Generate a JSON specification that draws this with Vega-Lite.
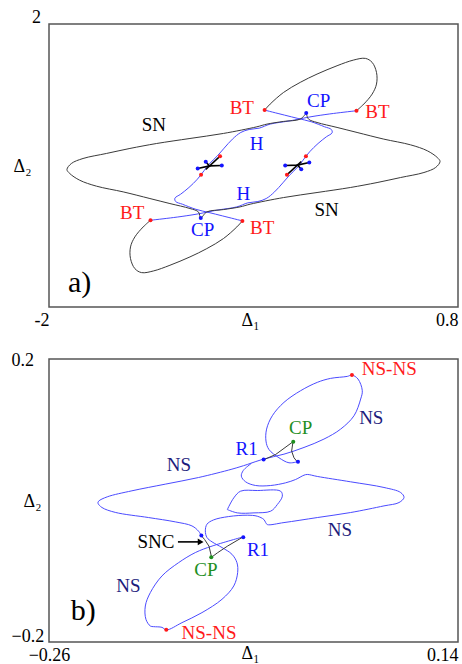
{
"$schema": "https://vega.github.io/schema/vega-lite/v6.json",
"padding": {"left": 10, "top": 7, "right": 2, "bottom": 2},
"spacing": 52,
"bounds": "flush",
"datasets": {
"a_curves": [
{"s":"B","i":1,"x":0.105,"y":0.774,"k":"hc"},{"s":"B","i":2,"x":-0.051,"y":0.736,"k":"hc"},{"s":"B","i":3,"x":-0.165,"y":0.703,"k":"hc"},{"s":"B","i":4,"x":-0.234,"y":0.679,"k":"hc"},{"s":"B","i":5,"x":-0.348,"y":0.632,"k":"hc"},{"s":"B","i":6,"x":-0.486,"y":0.585,"k":"hc"},{"s":"B","i":7,"x":-0.561,"y":0.528,"k":"hc"},{"s":"B","i":8,"x":-0.630,"y":0.509,"k":"hc"},{"s":"B","i":9,"x":-0.687,"y":0.467,"k":"hc"},{"s":"B","i":10,"x":-0.744,"y":0.373,"k":"hc"},{"s":"B","i":11,"x":-0.801,"y":0.245,"k":"hc"},{"s":"B","i":12,"x":-0.847,"y":0.137,"k":"hc"},{"s":"B","i":13,"x":-0.904,"y":0.019,"k":"hc"},{"s":"B","i":14,"x":-0.939,"y":-0.075,"k":"hc"},{"s":"B","i":15,"x":-0.984,"y":-0.193,"k":"hc"},{"s":"B","i":16,"x":-1.042,"y":-0.311,"k":"hc"},{"s":"B","i":17,"x":-1.099,"y":-0.406,"k":"hc"},{"s":"B","i":18,"x":-1.138,"y":-0.462,"k":"hc"},{"s":"B","i":19,"x":-1.133,"y":-0.509,"k":"hc"},{"s":"B","i":20,"x":-1.087,"y":-0.547,"k":"hc"},{"s":"B","i":21,"x":-0.996,"y":-0.618,"k":"hc"},{"s":"B","i":22,"x":-0.904,"y":-0.665,"k":"hc"},{"s":"B","i":23,"x":-0.813,"y":-0.712,"k":"hc"},{"s":"B","i":24,"x":-0.676,"y":-0.783,"k":"hc"},
{"s":"A","i":1,"x":-1.305,"y":-0.774,"k":"hc"},{"s":"A","i":2,"x":-1.149,"y":-0.736,"k":"hc"},{"s":"A","i":3,"x":-1.035,"y":-0.703,"k":"hc"},{"s":"A","i":4,"x":-0.966,"y":-0.679,"k":"hc"},{"s":"A","i":5,"x":-0.852,"y":-0.632,"k":"hc"},{"s":"A","i":6,"x":-0.714,"y":-0.585,"k":"hc"},{"s":"A","i":7,"x":-0.639,"y":-0.528,"k":"hc"},{"s":"A","i":8,"x":-0.570,"y":-0.509,"k":"hc"},{"s":"A","i":9,"x":-0.513,"y":-0.467,"k":"hc"},{"s":"A","i":10,"x":-0.456,"y":-0.373,"k":"hc"},{"s":"A","i":11,"x":-0.399,"y":-0.245,"k":"hc"},{"s":"A","i":12,"x":-0.353,"y":-0.137,"k":"hc"},{"s":"A","i":13,"x":-0.296,"y":-0.019,"k":"hc"},{"s":"A","i":14,"x":-0.261,"y":0.075,"k":"hc"},{"s":"A","i":15,"x":-0.216,"y":0.193,"k":"hc"},{"s":"A","i":16,"x":-0.158,"y":0.311,"k":"hc"},{"s":"A","i":17,"x":-0.101,"y":0.406,"k":"hc"},{"s":"A","i":18,"x":-0.062,"y":0.462,"k":"hc"},{"s":"A","i":19,"x":-0.067,"y":0.509,"k":"hc"},{"s":"A","i":20,"x":-0.113,"y":0.547,"k":"hc"},{"s":"A","i":21,"x":-0.204,"y":0.618,"k":"hc"},{"s":"A","i":22,"x":-0.296,"y":0.665,"k":"hc"},{"s":"A","i":23,"x":-0.387,"y":0.712,"k":"hc"},{"s":"A","i":24,"x":-0.524,"y":0.783,"k":"hc"},
{"s":"U","i":1,"x":-0.524,"y":0.783,"k":"snc"},{"s":"U","i":2,"x":-0.486,"y":0.868,"k":"snc"},{"s":"U","i":3,"x":-0.394,"y":1.033,"k":"snc"},{"s":"U","i":4,"x":-0.280,"y":1.175,"k":"snc"},{"s":"U","i":5,"x":-0.165,"y":1.292,"k":"snc"},{"s":"U","i":6,"x":-0.028,"y":1.410,"k":"snc"},{"s":"U","i":7,"x":0.086,"y":1.491,"k":"snc"},{"s":"U","i":8,"x":0.166,"y":1.514,"k":"snc"},{"s":"U","i":9,"x":0.212,"y":1.458,"k":"snc"},{"s":"U","i":10,"x":0.242,"y":1.316,"k":"snc"},{"s":"U","i":11,"x":0.242,"y":1.151,"k":"snc"},{"s":"U","i":12,"x":0.212,"y":1.009,"k":"snc"},{"s":"U","i":13,"x":0.155,"y":0.868,"k":"snc"},{"s":"U","i":14,"x":0.105,"y":0.774,"k":"snc"},
{"s":"L","i":1,"x":-0.676,"y":-0.783,"k":"snc"},{"s":"L","i":2,"x":-0.714,"y":-0.868,"k":"snc"},{"s":"L","i":3,"x":-0.806,"y":-1.033,"k":"snc"},{"s":"L","i":4,"x":-0.920,"y":-1.175,"k":"snc"},{"s":"L","i":5,"x":-1.035,"y":-1.292,"k":"snc"},{"s":"L","i":6,"x":-1.172,"y":-1.410,"k":"snc"},{"s":"L","i":7,"x":-1.286,"y":-1.491,"k":"snc"},{"s":"L","i":8,"x":-1.366,"y":-1.514,"k":"snc"},{"s":"L","i":9,"x":-1.412,"y":-1.458,"k":"snc"},{"s":"L","i":10,"x":-1.442,"y":-1.316,"k":"snc"},{"s":"L","i":11,"x":-1.442,"y":-1.151,"k":"snc"},{"s":"L","i":12,"x":-1.412,"y":-1.009,"k":"snc"},{"s":"L","i":13,"x":-1.355,"y":-0.868,"k":"snc"},{"s":"L","i":14,"x":-1.305,"y":-0.774,"k":"snc"},
{"s":"S","i":1,"x":-0.239,"y":0.741,"k":"snc"},{"s":"S","i":2,"x":-0.223,"y":0.656,"k":"snc"},{"s":"S","i":3,"x":-0.165,"y":0.608,"k":"snc"},{"s":"S","i":4,"x":-0.028,"y":0.538,"k":"snc"},{"s":"S","i":5,"x":0.109,"y":0.467,"k":"snc"},{"s":"S","i":6,"x":0.292,"y":0.373,"k":"snc"},{"s":"S","i":7,"x":0.475,"y":0.292,"k":"snc"},{"s":"S","i":8,"x":0.590,"y":0.208,"k":"snc"},{"s":"S","i":9,"x":0.658,"y":0.113,"k":"snc"},{"s":"S","i":10,"x":0.677,"y":0.057,"k":"snc"},{"s":"S","i":11,"x":0.647,"y":-0.028,"k":"snc"},{"s":"S","i":12,"x":0.567,"y":-0.099,"k":"snc"},{"s":"S","i":13,"x":0.407,"y":-0.170,"k":"snc"},{"s":"S","i":14,"x":0.246,"y":-0.241,"k":"snc"},{"s":"S","i":15,"x":0.063,"y":-0.311,"k":"snc"},{"s":"S","i":16,"x":-0.165,"y":-0.382,"k":"snc"},{"s":"S","i":17,"x":-0.394,"y":-0.453,"k":"snc"},{"s":"S","i":18,"x":-0.623,"y":-0.547,"k":"snc"},{"s":"S","i":19,"x":-0.692,"y":-0.585,"k":"snc"},{"s":"S","i":20,"x":-0.806,"y":-0.623,"k":"snc"},{"s":"S","i":21,"x":-0.920,"y":-0.656,"k":"snc"},{"s":"S","i":22,"x":-0.961,"y":-0.741,"k":"snc"},{"s":"S","i":23,"x":-0.977,"y":-0.656,"k":"snc"},{"s":"S","i":24,"x":-1.035,"y":-0.608,"k":"snc"},{"s":"S","i":25,"x":-1.172,"y":-0.538,"k":"snc"},{"s":"S","i":26,"x":-1.309,"y":-0.467,"k":"snc"},{"s":"S","i":27,"x":-1.492,"y":-0.373,"k":"snc"},{"s":"S","i":28,"x":-1.675,"y":-0.292,"k":"snc"},{"s":"S","i":29,"x":-1.790,"y":-0.208,"k":"snc"},{"s":"S","i":30,"x":-1.858,"y":-0.113,"k":"snc"},{"s":"S","i":31,"x":-1.877,"y":-0.057,"k":"snc"},{"s":"S","i":32,"x":-1.847,"y":0.028,"k":"snc"},{"s":"S","i":33,"x":-1.767,"y":0.099,"k":"snc"},{"s":"S","i":34,"x":-1.607,"y":0.170,"k":"snc"},{"s":"S","i":35,"x":-1.446,"y":0.241,"k":"snc"},{"s":"S","i":36,"x":-1.263,"y":0.311,"k":"snc"},{"s":"S","i":37,"x":-1.035,"y":0.382,"k":"snc"},{"s":"S","i":38,"x":-0.806,"y":0.453,"k":"snc"},{"s":"S","i":39,"x":-0.577,"y":0.547,"k":"snc"},{"s":"S","i":40,"x":-0.508,"y":0.585,"k":"snc"},{"s":"S","i":41,"x":-0.394,"y":0.623,"k":"snc"},{"s":"S","i":42,"x":-0.280,"y":0.656,"k":"snc"},{"s":"S","i":43,"x":-0.239,"y":0.741,"k":"snc"}
],
"a_segs": [
{"s":"s1","i":1,"x":-0.982,"y":-0.042,"k":"black"},{"s":"s1","i":2,"x":-0.900,"y":-0.005,"k":"black"},{"s":"s1","i":3,"x":-0.817,"y":0.0,"k":"black"},
{"s":"s2","i":1,"x":-0.927,"y":0.052,"k":"black"},{"s":"s2","i":2,"x":-0.897,"y":-0.019,"k":"black"},
{"s":"s3","i":1,"x":-0.927,"y":-0.057,"k":"black"},{"s":"s3","i":2,"x":-0.829,"y":0.132,"k":"black"},
{"s":"t1","i":1,"x":-0.218,"y":0.042,"k":"black"},{"s":"t1","i":2,"x":-0.300,"y":0.005,"k":"black"},{"s":"t1","i":3,"x":-0.383,"y":0.0,"k":"black"},
{"s":"t2","i":1,"x":-0.273,"y":-0.052,"k":"black"},{"s":"t2","i":2,"x":-0.303,"y":0.019,"k":"black"},
{"s":"t3","i":1,"x":-0.273,"y":0.057,"k":"black"},{"s":"t3","i":2,"x":-0.371,"y":-0.132,"k":"black"}
],
"a_pts": [
{"x":-0.524,"y":0.783,"k":"red"},{"x":0.105,"y":0.774,"k":"red"},{"x":-1.305,"y":-0.774,"k":"red"},{"x":-0.676,"y":-0.783,"k":"red"},
{"x":-0.829,"y":0.132,"k":"red"},{"x":-0.959,"y":-0.132,"k":"red"},{"x":-0.371,"y":-0.132,"k":"red"},{"x":-0.241,"y":0.132,"k":"red"},
{"x":-0.239,"y":0.741,"k":"blue"},{"x":-0.961,"y":-0.741,"k":"blue"},
{"x":-0.982,"y":-0.042,"k":"blue"},{"x":-0.927,"y":0.052,"k":"blue"},{"x":-0.817,"y":0.0,"k":"blue"},
{"x":-0.218,"y":0.042,"k":"blue"},{"x":-0.273,"y":-0.052,"k":"blue"},{"x":-0.383,"y":0.0,"k":"blue"}
],
"a_txt": [
{"x":-0.680,"y":0.807,"t":"BT","k":"red"},{"x":0.249,"y":0.750,"t":"BT","k":"red"},{"x":-0.154,"y":0.906,"t":"CP","k":"blue"},{"x":-1.282,"y":0.575,"t":"SN","k":"black"},{"x":-0.579,"y":0.307,"t":"H","k":"blue"},{"x":-0.669,"y":-0.401,"t":"H","k":"blue"},{"x":-1.430,"y":-0.670,"t":"BT","k":"red"},{"x":-0.948,"y":-0.906,"t":"CP","k":"blue"},{"x":-0.541,"y":-0.887,"t":"BT","k":"red"},{"x":-0.099,"y":-0.627,"t":"SN","k":"black"}
],
"a_tag": [{"x":-1.790,"y":-1.660,"t":"a)","k":"black"}],
"b_curves": [
{"s":"S1","i":1,"x":-0.0172,"y":0.0547,"k":"hc"},{"s":"S1","i":2,"x":-0.0253,"y":0.0533,"k":"hc"},{"s":"S1","i":3,"x":-0.0351,"y":0.0604,"k":"hc"},{"s":"S1","i":4,"x":-0.0449,"y":0.0721,"k":"hc"},{"s":"S1","i":5,"x":-0.0478,"y":0.0840,"k":"hc"},{"s":"S1","i":6,"x":-0.0472,"y":0.1009,"k":"hc"},{"s":"S1","i":7,"x":-0.0416,"y":0.1198,"k":"hc"},{"s":"S1","i":8,"x":-0.0302,"y":0.1387,"k":"hc"},{"s":"S1","i":9,"x":-0.0139,"y":0.1552,"k":"hc"},{"s":"S1","i":10,"x":0.0024,"y":0.1670,"k":"hc"},{"s":"S1","i":11,"x":0.0154,"y":0.1726,"k":"hc"},{"s":"S1","i":12,"x":0.0317,"y":0.1754,"k":"hc"},{"s":"S1","i":13,"x":0.0363,"y":0.1773,"k":"hc"},{"s":"S1","i":14,"x":0.0422,"y":0.1717,"k":"hc"},{"s":"S1","i":15,"x":0.0464,"y":0.1552,"k":"hc"},{"s":"S1","i":16,"x":0.0448,"y":0.1434,"k":"hc"},{"s":"S1","i":17,"x":0.0383,"y":0.1198,"k":"hc"},{"s":"S1","i":18,"x":0.0252,"y":0.1009,"k":"hc"},{"s":"S1","i":19,"x":0.0089,"y":0.0868,"k":"hc"},{"s":"S1","i":20,"x":-0.0106,"y":0.0750,"k":"hc"},{"s":"S1","i":21,"x":-0.0302,"y":0.0655,"k":"hc"},{"s":"S1","i":22,"x":-0.0504,"y":0.0585,"k":"hc"},{"s":"S1","i":23,"x":-0.0661,"y":0.0509,"k":"hc"},{"s":"S1","i":24,"x":-0.0811,"y":0.0443,"k":"hc"},{"s":"S1","i":25,"x":-0.1137,"y":0.0325,"k":"hc"},{"s":"S1","i":26,"x":-0.1463,"y":0.0231,"k":"hc"},{"s":"S1","i":27,"x":-0.1789,"y":0.0137,"k":"hc"},{"s":"S1","i":28,"x":-0.2030,"y":0.0052,"k":"hc"},{"s":"S1","i":29,"x":-0.2115,"y":-0.0010,"k":"hc"},{"s":"S1","i":30,"x":-0.2121,"y":-0.0038,"k":"hc"},{"s":"S1","i":31,"x":-0.2082,"y":-0.0099,"k":"hc"},{"s":"S1","i":32,"x":-0.1952,"y":-0.0168,"k":"hc"},{"s":"S1","i":33,"x":-0.1626,"y":-0.0241,"k":"hc"},{"s":"S1","i":34,"x":-0.1365,"y":-0.0302,"k":"hc"},{"s":"S1","i":35,"x":-0.1202,"y":-0.0359,"k":"hc"},{"s":"S1","i":36,"x":-0.1137,"y":-0.0434,"k":"hc"},{"s":"S1","i":37,"x":-0.1110,"y":-0.0498,"k":"hc"},
{"s":"S2","i":1,"x":-0.0701,"y":-0.0514,"k":"hc"},{"s":"S2","i":2,"x":-0.1005,"y":-0.0644,"k":"hc"},{"s":"S2","i":3,"x":-0.1169,"y":-0.0736,"k":"hc"},{"s":"S2","i":4,"x":-0.1332,"y":-0.0878,"k":"hc"},{"s":"S2","i":5,"x":-0.1495,"y":-0.1066,"k":"hc"},{"s":"S2","i":6,"x":-0.1609,"y":-0.1302,"k":"hc"},{"s":"S2","i":7,"x":-0.1658,"y":-0.1491,"k":"hc"},{"s":"S2","i":8,"x":-0.1652,"y":-0.1679,"k":"hc"},{"s":"S2","i":9,"x":-0.1609,"y":-0.1774,"k":"hc"},{"s":"S2","i":10,"x":-0.1577,"y":-0.1783,"k":"hc"},{"s":"S2","i":11,"x":-0.1495,"y":-0.1793,"k":"hc"},{"s":"S2","i":12,"x":-0.1453,"y":-0.1830,"k":"hc"},{"s":"S2","i":13,"x":-0.1300,"y":-0.1727,"k":"hc"},{"s":"S2","i":14,"x":-0.1104,"y":-0.1585,"k":"hc"},{"s":"S2","i":15,"x":-0.0908,"y":-0.1396,"k":"hc"},{"s":"S2","i":16,"x":-0.0793,"y":-0.1208,"k":"hc"},{"s":"S2","i":17,"x":-0.0755,"y":-0.1019,"k":"hc"},{"s":"S2","i":18,"x":-0.0762,"y":-0.0878,"k":"hc"},{"s":"S2","i":19,"x":-0.0811,"y":-0.0760,"k":"hc"},{"s":"S2","i":20,"x":-0.0908,"y":-0.0665,"k":"hc"},{"s":"S2","i":21,"x":-0.1005,"y":-0.0585,"k":"hc"},{"s":"S2","i":22,"x":-0.1055,"y":-0.0524,"k":"hc"},{"s":"S2","i":23,"x":-0.1071,"y":-0.0429,"k":"hc"},{"s":"S2","i":24,"x":-0.1055,"y":-0.0335,"k":"hc"},{"s":"S2","i":25,"x":-0.0990,"y":-0.0274,"k":"hc"},{"s":"S2","i":26,"x":-0.0843,"y":-0.0227,"k":"hc"},{"s":"S2","i":27,"x":-0.0661,"y":-0.0208,"k":"hc"},{"s":"S2","i":28,"x":-0.0563,"y":-0.0222,"k":"hc"},{"s":"S2","i":29,"x":-0.0498,"y":-0.0269,"k":"hc"},{"s":"S2","i":30,"x":-0.0481,"y":-0.0312,"k":"hc"},{"s":"S2","i":31,"x":-0.0465,"y":-0.0340,"k":"hc"},{"s":"S2","i":32,"x":-0.0302,"y":-0.0312,"k":"hc"},{"s":"S2","i":33,"x":0.0024,"y":-0.0241,"k":"hc"},{"s":"S2","i":34,"x":0.0350,"y":-0.0170,"k":"hc"},{"s":"S2","i":35,"x":0.0676,"y":-0.0076,"k":"hc"},{"s":"S2","i":36,"x":0.0823,"y":-0.0029,"k":"hc"},{"s":"S2","i":37,"x":0.0872,"y":0.0043,"k":"hc"},{"s":"S2","i":38,"x":0.0839,"y":0.0113,"k":"hc"},{"s":"S2","i":39,"x":0.0676,"y":0.0184,"k":"hc"},{"s":"S2","i":40,"x":0.0350,"y":0.0264,"k":"hc"},{"s":"S2","i":41,"x":0.0024,"y":0.0340,"k":"hc"},{"s":"S2","i":42,"x":-0.0074,"y":0.0368,"k":"hc"},{"s":"S2","i":43,"x":-0.0106,"y":0.0358,"k":"hc"},{"s":"S2","i":44,"x":-0.0188,"y":0.0297,"k":"hc"},{"s":"S2","i":45,"x":-0.0286,"y":0.0250,"k":"hc"},{"s":"S2","i":46,"x":-0.0432,"y":0.0212,"k":"hc"},{"s":"S2","i":47,"x":-0.0579,"y":0.0212,"k":"hc"},{"s":"S2","i":48,"x":-0.0677,"y":0.0264,"k":"hc"},{"s":"S2","i":49,"x":-0.0719,"y":0.0344,"k":"hc"},{"s":"S2","i":50,"x":-0.0700,"y":0.0424,"k":"hc"},{"s":"S2","i":51,"x":-0.0622,"y":0.0523,"k":"hc"},
{"s":"D","i":1,"x":-0.0856,"y":-0.0128,"k":"hc"},{"s":"D","i":2,"x":-0.0793,"y":0.0037,"k":"hc"},{"s":"D","i":3,"x":-0.0726,"y":0.0132,"k":"hc"},{"s":"D","i":4,"x":-0.0563,"y":0.0141,"k":"hc"},{"s":"D","i":5,"x":-0.0335,"y":0.0132,"k":"hc"},{"s":"D","i":6,"x":-0.0318,"y":0.0061,"k":"hc"},{"s":"D","i":7,"x":-0.0367,"y":-0.0057,"k":"hc"},{"s":"D","i":8,"x":-0.0432,"y":-0.0151,"k":"hc"},{"s":"D","i":9,"x":-0.0595,"y":-0.0175,"k":"hc"},{"s":"D","i":10,"x":-0.0758,"y":-0.0175,"k":"hc"},{"s":"D","i":11,"x":-0.0856,"y":-0.0128,"k":"hc"}
],
"b_segs": [
{"s":"c1","i":1,"x":-0.0507,"y":0.0571,"k":"snc"},{"s":"c1","i":2,"x":-0.0383,"y":0.0651,"k":"snc"},{"s":"c1","i":3,"x":-0.0214,"y":0.0830,"k":"snc"},{"s":"c1","i":4,"x":-0.0227,"y":0.0698,"k":"snc"},{"s":"c1","i":5,"x":-0.0204,"y":0.0604,"k":"snc"},{"s":"c1","i":6,"x":-0.0172,"y":0.0547,"k":"snc"},
{"s":"c2","i":1,"x":-0.1110,"y":-0.0498,"k":"snc"},{"s":"c2","i":2,"x":-0.1078,"y":-0.0552,"k":"snc"},{"s":"c2","i":3,"x":-0.1035,"y":-0.0646,"k":"snc"},{"s":"c2","i":4,"x":-0.1010,"y":-0.0802,"k":"snc"},{"s":"c2","i":5,"x":-0.0954,"y":-0.0741,"k":"snc"},{"s":"c2","i":6,"x":-0.0856,"y":-0.0646,"k":"snc"},{"s":"c2","i":7,"x":-0.0701,"y":-0.0514,"k":"snc"}
],
"b_arrow": [{"s":"ar","i":1,"x":-0.1339,"y":-0.0585,"k":"black"},{"s":"ar","i":2,"x":-0.1133,"y":-0.0585,"k":"black"}],
"b_head": [{"x":-0.1117,"y":-0.0585,"k":"black"}],
"b_pts": [
{"x":0.0363,"y":0.1773,"k":"red"},{"x":-0.1453,"y":-0.1828,"k":"red"},
{"x":-0.0211,"y":0.0830,"k":"green"},{"x":-0.1013,"y":-0.0802,"k":"green"},
{"x":-0.0501,"y":0.0580,"k":"blue"},{"x":-0.0165,"y":0.0547,"k":"blue"},{"x":-0.0700,"y":-0.0519,"k":"blue"},{"x":-0.1110,"y":-0.0495,"k":"blue"}
],
"b_txt": [
{"x":0.0728,"y":0.1854,"t":"NS-NS","k":"red"},{"x":0.0552,"y":0.1170,"t":"NS","k":"navy"},{"x":-0.0139,"y":0.1028,"t":"CP","k":"green"},{"x":-0.0667,"y":0.0721,"t":"R1","k":"blue"},{"x":-0.1329,"y":0.0500,"t":"NS","k":"navy"},{"x":0.0246,"y":-0.0420,"t":"NS","k":"navy"},{"x":-0.1554,"y":-0.0585,"t":"SNC","k":"black"},{"x":-0.0556,"y":-0.0703,"t":"R1","k":"blue"},{"x":-0.1065,"y":-0.0981,"t":"CP","k":"green"},{"x":-0.1824,"y":-0.1212,"t":"NS","k":"navy"},{"x":-0.1035,"y":-0.1873,"t":"NS-NS","k":"red"}
],
"b_tag": [{"x":-0.2265,"y":-0.1557,"t":"b)","k":"black"}]
},
"vconcat": [
{
"width": 409, "height": 283,
"encoding": {
"x": {"field": "x", "type": "quantitative", "scale": {"domain": [-2, 0.8], "nice": false, "zero": false},
 "axis": {"values": [-2, 0.8], "labelExpr": "datum.value < 0 ? '-2' : '0.8'", "labelAlign": "right", "labelBaseline": "alphabetic", "labelPadding": 18,
 "title": "Δ₁", "titleX": 201, "titleY": 18, "titleAlign": "center", "titleBaseline": "alphabetic"}},
"y": {"field": "y", "type": "quantitative", "scale": {"domain": [-2, 2], "nice": false, "zero": false},
 "axis": {"values": [2], "labelExpr": "'2'", "labelAlign": "center", "labelBaseline": "alphabetic", "labelPadding": 13, "labelOffset": -2,
 "title": "Δ₂", "titleAngle": 0, "titleX": -27, "titleY": 147, "titleAlign": "center", "titleBaseline": "alphabetic"}},
"color": {"field": "k", "type": "nominal", "scale": {"domain": ["hc","snc","red","blue","black","green","navy"], "range": ["#4b4bff","#3a3a3a","#ff1a1a","#1414ff","#000000","#1f8f1f","#1c1c7c"]}, "legend": null}
},
"layer": [
{"data": {"name": "a_curves"}, "mark": {"type": "line", "strokeWidth": 1, "interpolate": "catmull-rom"}, "encoding": {"detail": {"field": "s"}, "order": {"field": "i", "type": "quantitative"}}},
{"data": {"name": "a_segs"}, "mark": {"type": "line", "strokeWidth": 1.6}, "encoding": {"detail": {"field": "s"}, "order": {"field": "i", "type": "quantitative"}}},
{"data": {"name": "a_pts"}, "mark": {"type": "point", "shape": "circle", "filled": true, "size": 16, "opacity": 1}},
{"data": {"name": "a_txt"}, "mark": {"type": "text", "font": "Liberation Serif", "fontSize": 19, "baseline": "middle", "align": "center"}, "encoding": {"text": {"field": "t"}}},
{"data": {"name": "a_tag"}, "mark": {"type": "text", "font": "Liberation Serif", "fontSize": 30, "baseline": "middle", "align": "center"}, "encoding": {"text": {"field": "t"}}}
]
},
{
"width": 409, "height": 283,
"encoding": {
"x": {"field": "x", "type": "quantitative", "scale": {"domain": [-0.26, 0.14], "nice": false, "zero": false},
 "axis": {"values": [-0.26, 0.14], "labelExpr": "datum.value < 0 ? '−0.26' : '0.14'", "labelAlign": {"condition": {"test": "datum.value < 0", "value": "center"}, "value": "right"}, "labelBaseline": "alphabetic", "labelPadding": 18,
 "title": "Δ₁", "titleX": 201, "titleY": 16, "titleAlign": "center", "titleBaseline": "alphabetic"}},
"y": {"field": "y", "type": "quantitative", "scale": {"domain": [-0.2, 0.2], "nice": false, "zero": false},
 "axis": {"values": [-0.2, 0.2], "labelExpr": "datum.value < 0 ? '−0.2' : '0.2'", "labelAlign": "left", "labelBaseline": "alphabetic", "labelPadding": 38, "labelOffset": {"condition": {"test": "datum.value < 0", "value": -1}, "value": 6},
 "title": "Δ₂", "titleAngle": 0, "titleX": -17, "titleY": 147, "titleAlign": "center", "titleBaseline": "alphabetic"}},
"color": {"field": "k", "type": "nominal", "scale": {"domain": ["hc","snc","red","blue","black","green","navy"], "range": ["#4b4bff","#3a3a3a","#ff1a1a","#1414ff","#000000","#1f8f1f","#1c1c7c"]}, "legend": null}
},
"layer": [
{"data": {"name": "b_curves"}, "mark": {"type": "line", "strokeWidth": 1, "interpolate": "catmull-rom"}, "encoding": {"detail": {"field": "s"}, "order": {"field": "i", "type": "quantitative"}}},
{"data": {"name": "b_segs"}, "mark": {"type": "line", "strokeWidth": 1}, "encoding": {"detail": {"field": "s"}, "order": {"field": "i", "type": "quantitative"}}},
{"data": {"name": "b_arrow"}, "mark": {"type": "line", "strokeWidth": 1.6}, "encoding": {"detail": {"field": "s"}, "order": {"field": "i", "type": "quantitative"}}},
{"data": {"name": "b_head"}, "mark": {"type": "point", "shape": "triangle-right", "filled": true, "size": 45, "opacity": 1}},
{"data": {"name": "b_pts"}, "mark": {"type": "point", "shape": "circle", "filled": true, "size": 16, "opacity": 1}},
{"data": {"name": "b_txt"}, "mark": {"type": "text", "font": "Liberation Serif", "fontSize": 19, "baseline": "middle", "align": "center"}, "encoding": {"text": {"field": "t"}}},
{"data": {"name": "b_tag"}, "mark": {"type": "text", "font": "Liberation Serif", "fontSize": 30, "baseline": "middle", "align": "center"}, "encoding": {"text": {"field": "t"}}}
]
}
],
"config": {
"view": {"stroke": "#555555", "strokeWidth": 1.5},
"axis": {"grid": false, "domain": false, "ticks": false, "tickSize": 0, "labelFont": "Liberation Serif", "labelFontSize": 18, "labelColor": "#000000", "titleFont": "Liberation Serif", "titleFontSize": 18, "titleFontWeight": "normal", "titleColor": "#000000", "labelFlush": false, "labelOverlap": false},
"text": {"font": "Liberation Serif"}
}
}
